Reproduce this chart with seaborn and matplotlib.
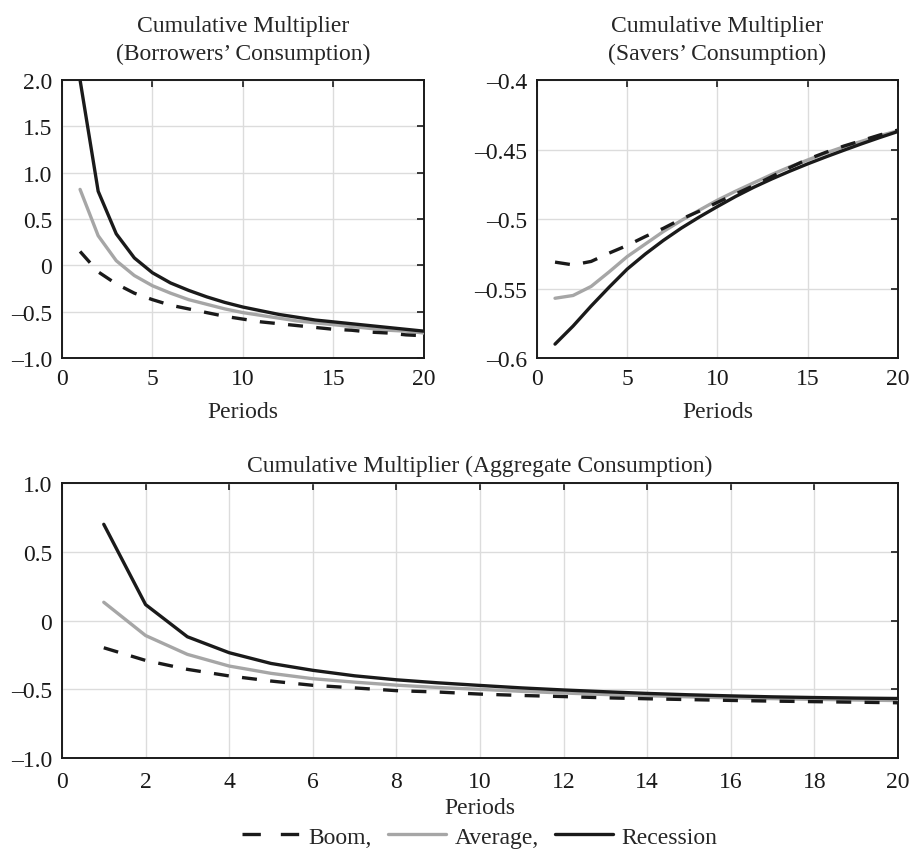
import numpy as np
import pandas as pd
import seaborn as sns
import matplotlib.pyplot as plt
from matplotlib.lines import Line2D
from matplotlib.ticker import FuncFormatter

# Periods on the x axis
periods = list(range(1, 21))

# Borrowers' consumption (top left)
borrowers_boom = [0.15, -0.07, -0.20, -0.30, -0.37, -0.43, -0.47, -0.51, -0.55, -0.58,
                  -0.61, -0.63, -0.65, -0.67, -0.69, -0.70, -0.72, -0.73, -0.75, -0.76]
borrowers_avg = [0.82, 0.32, 0.05, -0.11, -0.22, -0.30, -0.37, -0.42, -0.47, -0.51,
                 -0.54, -0.57, -0.60, -0.62, -0.64, -0.66, -0.68, -0.70, -0.71, -0.73]
borrowers_rec = [2.0, 0.80, 0.34, 0.08, -0.08, -0.19, -0.27, -0.34, -0.40, -0.45,
                 -0.49, -0.53, -0.56, -0.59, -0.61, -0.63, -0.65, -0.67, -0.69, -0.71]

# Savers' consumption (top right)
savers_boom = [-0.531, -0.533, -0.5305, -0.5245, -0.519, -0.5126, -0.5067, -0.500, -0.4943, -0.488,
               -0.482, -0.476, -0.4695, -0.463, -0.457, -0.452, -0.4475, -0.4435, -0.4395, -0.436]
savers_avg = [-0.557, -0.555, -0.5485, -0.538, -0.527, -0.518, -0.509, -0.501, -0.4936, -0.4864,
              -0.480, -0.474, -0.468, -0.4625, -0.4575, -0.4525, -0.448, -0.444, -0.440, -0.4365]
savers_rec = [-0.590, -0.577, -0.5626, -0.549, -0.536, -0.5252, -0.5154, -0.5065, -0.4985, -0.491,
              -0.4838, -0.4772, -0.4712, -0.4656, -0.4603, -0.4553, -0.4505, -0.4458, -0.4413, -0.437]

# Aggregate consumption (bottom)
agg_boom = [-0.198, -0.29, -0.355, -0.403, -0.44, -0.471, -0.49, -0.51, -0.52, -0.535,
            -0.545, -0.553, -0.562, -0.569, -0.575, -0.581, -0.586, -0.590, -0.594, -0.598]
agg_avg = [0.133, -0.109, -0.246, -0.331, -0.384, -0.423, -0.448, -0.47, -0.487, -0.50,
           -0.515, -0.527, -0.538, -0.547, -0.555, -0.562, -0.568, -0.573, -0.578, -0.582]
agg_rec = [0.70, 0.116, -0.118, -0.234, -0.312, -0.362, -0.402, -0.431, -0.453, -0.472,
           -0.49, -0.505, -0.518, -0.53, -0.54, -0.548, -0.555, -0.56, -0.564, -0.567]

series_labels = ['Boom,', 'Average,', 'Recession']

sns.set_style('white')
plt.rcParams['font.family'] = ['Liberation Serif', 'DejaVu Serif']

FS = 17
GRAY = '#a6a6a6'
DARK = '#1a1a1a'
LW = 2.4
DASH = (0, (4.5, 4.0))


def zero_fmt(v, pos):
    if abs(v) < 1e-9:
        return '0'
    return f'{v:.1f}'.replace('-', '\u2013')


def g_fmt(v, pos):
    if abs(v) < 1e-9:
        return '0'
    return f'{v:g}'.replace('-', '\u2013')


def draw_panel(ax, boom, avg, rec, title, xticks, yticks, ylim, yfmt, title_pad, xpad, labelpad):
    df = pd.DataFrame({'Period': periods * 3,
                       'Value': boom + avg + rec,
                       'Case': [series_labels[0]] * 20 + [series_labels[1]] * 20 + [series_labels[2]] * 20})
    sns.lineplot(data=df[df.Case == series_labels[1]], x='Period', y='Value', ax=ax,
                 color=GRAY, lw=LW, zorder=3)
    sns.lineplot(data=df[df.Case == series_labels[2]], x='Period', y='Value', ax=ax,
                 color=DARK, lw=LW, zorder=3.5)
    sns.lineplot(data=df[df.Case == series_labels[0]], x='Period', y='Value', ax=ax,
                 color=DARK, lw=LW, zorder=4, linestyle=DASH)
    ax.set_xlim(0, 20)
    ax.set_ylim(*ylim)
    ax.set_xticks(xticks)
    ax.set_yticks(yticks)
    ax.yaxis.set_major_formatter(FuncFormatter(yfmt))
    ax.grid(True, color='#dcdcdc', lw=1.0)
    ax.set_axisbelow(True)
    ax.tick_params(direction='in', top=True, right=True, length=5, width=1.2,
                   labelsize=FS, colors=DARK)
    ax.tick_params(axis='x', pad=xpad)
    ax.tick_params(axis='y', pad=7)
    for sp in ax.spines.values():
        sp.set_color(DARK)
        sp.set_linewidth(1.4)
    ax.set_title(title, fontsize=FS, pad=title_pad, linespacing=1.45)
    ax.set_xlabel('Periods', fontsize=FS, labelpad=labelpad)
    ax.set_ylabel('')


fig = plt.figure(figsize=(9.14, 8.54), dpi=100)
ax1 = fig.add_axes([0.0678, 0.5796, 0.396, 0.3255])
ax2 = fig.add_axes([0.5875, 0.5796, 0.395, 0.3255])
ax3 = fig.add_axes([0.0678, 0.1112, 0.9147, 0.322])

draw_panel(ax1, borrowers_boom, borrowers_avg, borrowers_rec,
           'Cumulative Multiplier\n(Borrowers\u2019 Consumption)',
           [0, 5, 10, 15, 20], [-1.0, -0.5, 0, 0.5, 1.0, 1.5, 2.0], (-1.0, 2.0), zero_fmt, 15, 7, 9)
draw_panel(ax2, savers_boom, savers_avg, savers_rec,
           'Cumulative Multiplier\n(Savers\u2019 Consumption)',
           [0, 5, 10, 15, 20], [-0.6, -0.55, -0.5, -0.45, -0.4], (-0.6, -0.4), g_fmt, 15, 7, 9)
draw_panel(ax3, agg_boom, agg_avg, agg_rec,
           'Cumulative Multiplier (Aggregate Consumption)',
           list(range(0, 21, 2)), [-1.0, -0.5, 0, 0.5, 1.0], (-1.0, 1.0), zero_fmt, 9, 9, 4)

# legend handles drawn with the longer dash seen in the key
handles = [Line2D([], [], color=DARK, lw=LW, linestyle=(0, (5.5, 6.0))),
           Line2D([], [], color=GRAY, lw=LW),
           Line2D([], [], color=DARK, lw=LW)]
fig.legend(handles, series_labels, loc='center', bbox_to_anchor=(0.525, 0.019), ncol=3,
           frameon=False, fontsize=FS, handlelength=2.45, handletextpad=0.35,
           columnspacing=0.7)

plt.savefig('out.png', dpi=100, facecolor='white')
